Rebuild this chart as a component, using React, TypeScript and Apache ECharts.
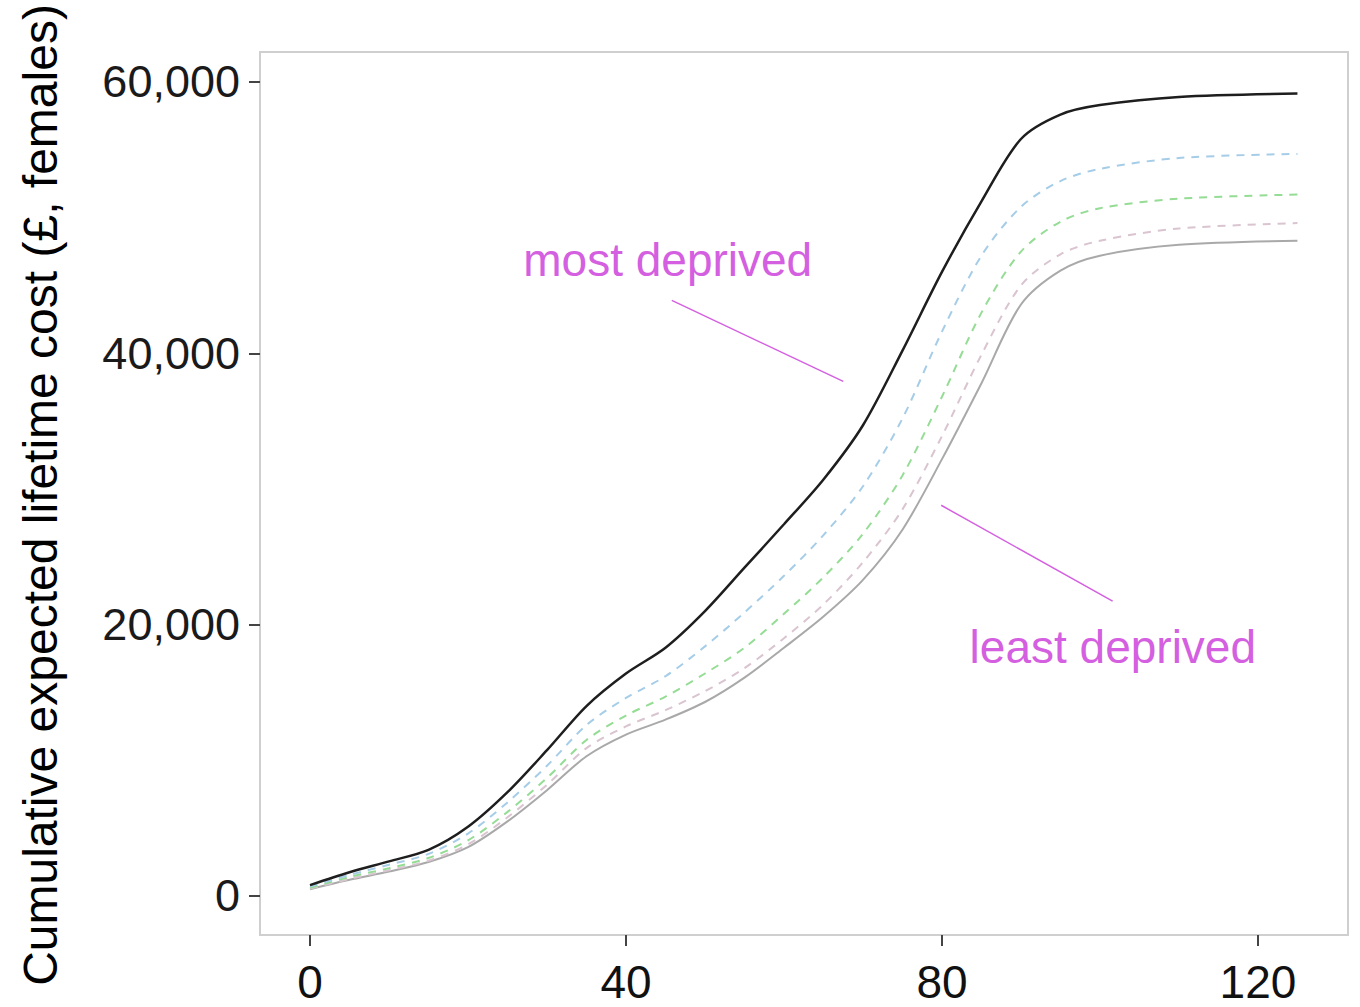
import React, { useEffect, useRef } from "react";
import * as echarts from "echarts";

const ages = [0, 5, 10, 15, 20, 25, 30, 35, 40, 45, 50, 55, 60, 65, 70, 75, 80, 85, 90, 95, 100, 110, 125];
const mostDeprived = [800, 1750, 2550, 3400, 5100, 7650, 10750, 14000, 16400, 18300, 21000, 24200, 27400, 30700, 34700, 40200, 46000, 51200, 55800, 57600, 58300, 58900, 59150];
const quintile2 = [700, 1550, 2300, 3100, 4600, 6900, 9600, 12600, 14600, 16200, 18400, 20900, 23600, 26600, 30200, 35200, 41600, 47200, 50800, 52700, 53600, 54400, 54700];
const quintile3 = [600, 1400, 2050, 2800, 4100, 6200, 8700, 11500, 13300, 14700, 16400, 18300, 20800, 23500, 26700, 31000, 36800, 43000, 47500, 49700, 50700, 51400, 51700];
const quintile4 = [550, 1250, 1900, 2600, 3800, 5800, 8200, 10900, 12500, 13700, 15100, 16800, 19000, 21500, 24600, 28500, 33900, 39900, 45000, 47300, 48300, 49200, 49600];
const leastDeprived = [500, 1200, 1800, 2500, 3600, 5500, 7800, 10300, 11900, 13000, 14300, 16100, 18300, 20600, 23300, 27000, 32200, 37800, 43600, 46100, 47200, 48000, 48300];

const xTicks = [0, 40, 80, 120];
const yTicks = [0, 20000, 40000, 60000];

const yTitle = "Cumulative expected lifetime cost (£, females)";
const annoColor = "#d45fe0";
const mostLabel = { text: "most deprived", at: [27.0, 46850], from: [45.8, 43900], to: [67.5, 37930] };
const leastLabel = { text: "least deprived", at: [83.5, 18340], from: [79.9, 28800], to: [101.6, 21730] };

const FONT = "'Liberation Sans', Arial, sans-serif";

function pairs(ys: number[]) {
  return ages.map((a, i) => [a, ys[i]]);
}

export default function App() {
  const ref = useRef<HTMLDivElement>(null);
  useEffect(() => {
    const chart = echarts.init(ref.current!, null, { renderer: "svg" });
    const mk = (name: string, ys: number[], color: string, width: number, type: any, z: number) => ({
      name,
      type: "line",
      data: pairs(ys),
      smooth: 0.3,
      showSymbol: false,
      symbol: "none",
      z,
      lineStyle: { color, width, type },
    });
    chart.setOption({
      animation: false,
      backgroundColor: "#ffffff",
      grid: {
        left: 260,
        top: 52,
        width: 1088,
        height: 883,
        show: true,
        borderColor: "#cfcfcf",
        borderWidth: 2,
        backgroundColor: "#ffffff",
      },
      xAxis: {
        type: "value",
        min: -6.33,
        max: 131.4,
        splitLine: { show: false },
        axisLine: { show: false, onZero: false },
        axisTick: { show: true, customValues: xTicks, length: 11, lineStyle: { color: "#444", width: 2 } },
        axisLabel: {
          customValues: xTicks,
          margin: 25,
          fontFamily: FONT,
          fontSize: 46,
          lineHeight: 44,
          color: "#111",
        },
      },
      yAxis: {
        type: "value",
        min: -2875,
        max: 62211,
        splitLine: { show: false },
        axisLine: { show: false, onZero: false },
        axisTick: { show: true, customValues: yTicks, length: 11, lineStyle: { color: "#444", width: 2 } },
        axisLabel: {
          customValues: yTicks,
          margin: 20,
          fontFamily: FONT,
          fontSize: 45,
          color: "#1a1a1a",
          formatter: (v: number) => v.toLocaleString("en-US"),
        },
      },
      series: [
        mk("least deprived", leastDeprived, "#a9a9a9", 2, "solid", 2),
        mk("Q4", quintile4, "#d9c4d0", 2, [8, 7], 3),
        mk("Q3", quintile3, "#95dc95", 2, [8, 7], 4),
        mk("Q2", quintile2, "#a6cde8", 2, [8, 7], 5),
        mk("most deprived", mostDeprived, "#1e1e1e", 2.5, "solid", 6),
      ],
    });
    const px = (p: number[]) => chart.convertToPixel({ gridIndex: 0 }, p) as number[];
    const g: any[] = [
      {
        type: "text",
        x: 40,
        y: 495,
        rotation: Math.PI / 2,
        style: {
          text: yTitle,
          font: `48px ${FONT}`,
          fill: "#000",
          textAlign: "center",
          textVerticalAlign: "middle",
        },
      },
    ];
    [mostLabel, leastLabel].forEach((a) => {
      const t = px(a.at);
      const f = px(a.from);
      const e = px(a.to);
      g.push({
        type: "text",
        x: t[0],
        y: t[1],
        style: { text: a.text, font: `46px ${FONT}`, fill: annoColor, textAlign: "left", textVerticalAlign: "middle" },
      });
      g.push({
        type: "line",
        shape: { x1: f[0], y1: f[1], x2: e[0], y2: e[1] },
        style: { stroke: annoColor, lineWidth: 1.5 },
      });
    });
    chart.setOption({ graphic: g });
    return () => chart.dispose();
  }, []);
  return <div ref={ref} style={{ position: "fixed", left: 0, top: 0, width: 1360, height: 1007 }} />;
}
